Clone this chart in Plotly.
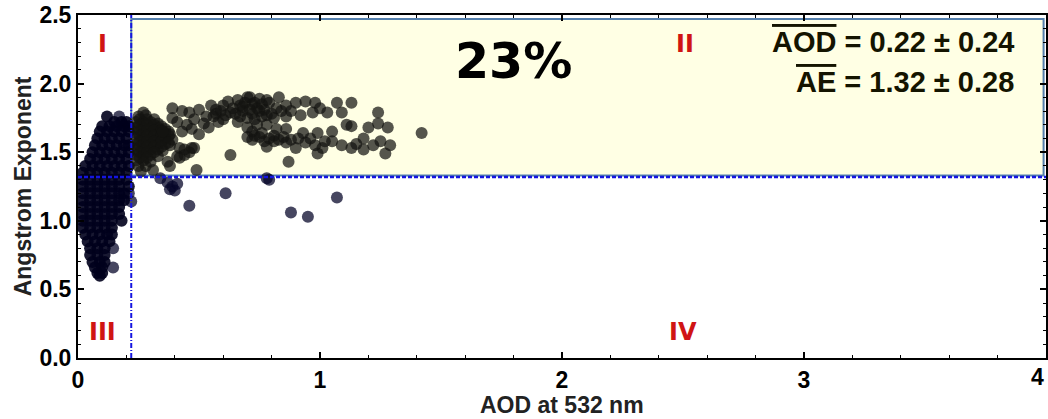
import plotly.graph_objects as go

# ---------------- data ----------------
# Region II points (AOD > 0.22, AE > 1.32) : (AOD, AE)
pts_region2 = [
    (0.25,1.76),(0.28,1.77),
    (0.24,1.72),(0.27,1.72),(0.30,1.72),(0.33,1.71),
    (0.24,1.68),(0.27,1.68),(0.30,1.68),(0.33,1.68),(0.36,1.67),
    (0.24,1.64),(0.27,1.64),(0.30,1.64),(0.33,1.64),(0.36,1.64),(0.38,1.63),
    (0.24,1.60),(0.27,1.60),(0.30,1.60),(0.33,1.60),(0.36,1.60),(0.39,1.59),
    (0.24,1.56),(0.27,1.56),(0.30,1.56),(0.33,1.56),(0.36,1.56),(0.38,1.55),
    (0.24,1.52),(0.27,1.52),(0.30,1.52),(0.33,1.52),(0.35,1.51),
    (0.24,1.48),(0.27,1.48),(0.30,1.48),(0.33,1.47),
    (0.24,1.44),(0.27,1.44),(0.30,1.43),
    (0.25,1.40),(0.28,1.40),(0.26,1.36),(0.31,1.37),
    (0.255,1.74),(0.285,1.74),(0.315,1.74),(0.255,1.70),(0.285,1.70),(0.315,1.70),
    (0.345,1.69),(0.255,1.66),(0.285,1.66),(0.315,1.66),(0.345,1.66),(0.375,1.65),
    (0.255,1.62),(0.285,1.62),(0.315,1.62),(0.345,1.62),(0.375,1.62),(0.255,1.58),
    (0.285,1.58),(0.315,1.58),(0.345,1.58),(0.375,1.57),(0.255,1.54),(0.285,1.54),
    (0.315,1.54),(0.345,1.54),(0.255,1.50),(0.285,1.50),(0.315,1.50),(0.255,1.46),
    (0.285,1.46),
    (0.39,1.82),(0.43,1.80),(0.46,1.79),(0.50,1.81),(0.55,1.84),(0.53,1.76),
    (0.39,1.75),(0.43,1.65),(0.50,1.63),(0.54,1.68),(0.35,1.65),(0.27,1.79),
    (0.41,1.72),(0.45,1.70),(0.48,1.74),(0.57,1.78),(0.58,1.72),(0.47,1.67),
    (0.52,1.71),(0.59,1.80),(0.60,1.74),(0.56,1.76),
    (0.42,1.53),(0.46,1.50),(0.47,1.53),(0.44,1.48),(0.41,1.47),(0.37,1.43),
    (0.38,1.40),(0.44,1.52),(0.48,1.53),(0.42,1.46),(0.49,1.37),(0.63,1.48),
    (0.62,1.87),(0.67,1.84),(0.71,1.90),(0.75,1.89),(0.74,1.82),(0.77,1.81),
    (0.61,1.77),(0.70,1.75),(0.66,1.72),(0.83,1.90),(0.70,1.90),(0.68,1.80),
    (0.72,1.78),(0.65,1.78),(0.79,1.86),(0.73,1.86),(0.64,1.82),(0.69,1.86),
    (0.76,1.76),(0.80,1.78),(0.81,1.75),(0.86,1.76),(0.86,1.84),(0.90,1.86),
    (0.94,1.87),(0.98,1.86),(1.07,1.86),(1.13,1.86),(1.03,1.79),(0.97,1.79),
    (1.09,1.79),(0.92,1.77),(1.24,1.79),(1.00,1.82),(0.88,1.80),(0.84,1.80),
    (0.66,1.88),(0.72,1.85),(0.76,1.85),(0.78,1.88),(0.68,1.83),(0.71,1.81),
    (0.75,1.80),(0.63,1.79),(0.67,1.76),(0.73,1.74),(0.78,1.77),(0.82,1.82),
    (0.60,1.84),(0.57,1.81),
    (0.70,1.68),(0.74,1.70),(0.78,1.70),(0.82,1.67),(0.86,1.67),(0.72,1.65),
    (0.70,1.61),(0.75,1.61),(0.79,1.60),(0.83,1.59),(0.88,1.59),(0.94,1.57),
    (0.98,1.55),(1.01,1.53),(1.05,1.58),(1.09,1.55),(1.13,1.53),(1.18,1.52),
    (1.22,1.55),(1.18,1.60),(1.29,1.55),(1.27,1.49),(0.78,1.54),(0.90,1.53),
    (0.99,1.49),(0.87,1.43),(0.93,1.64),(0.99,1.64),(1.05,1.65),(1.11,1.70),
    (1.13,1.69),(1.20,1.68),(1.24,1.71),(1.28,1.68),(1.42,1.64),(0.72,1.59),
    (0.81,1.62),(0.85,1.61),(0.91,1.60),(1.15,1.56),(1.25,1.58),(1.02,1.58),
    (0.96,1.60),(0.73,1.62),(0.77,1.58),(0.81,1.58),(0.86,1.57),(0.76,1.64),
]

# Dense low-AOD cluster (regions I and III) : (AOD, AE)
pts_cluster = [
    (0.12,1.76),
    (0.15,1.72),(0.18,1.72),(0.20,1.72),
    (0.10,1.69),(0.13,1.69),(0.16,1.69),(0.19,1.69),(0.21,1.69),
    (0.09,1.65),(0.12,1.65),(0.15,1.65),(0.18,1.65),(0.21,1.65),
    (0.08,1.60),(0.11,1.60),(0.14,1.60),(0.17,1.60),(0.20,1.60),
    (0.07,1.55),(0.10,1.55),(0.13,1.55),(0.16,1.55),(0.19,1.55),(0.21,1.55),
    (0.06,1.50),(0.09,1.50),(0.12,1.50),(0.15,1.50),(0.18,1.50),(0.21,1.50),
    (0.05,1.45),(0.08,1.45),(0.11,1.45),(0.14,1.45),(0.17,1.45),(0.20,1.45),
    (0.03,1.40),(0.06,1.40),(0.09,1.40),(0.12,1.40),(0.15,1.40),(0.18,1.40),(0.21,1.40),
    (0.02,1.35),(0.05,1.35),(0.08,1.35),(0.11,1.35),(0.14,1.35),(0.17,1.35),(0.20,1.35),
    (0.02,1.30),(0.05,1.30),(0.08,1.30),(0.11,1.30),(0.14,1.30),(0.17,1.30),(0.20,1.30),
    (0.02,1.25),(0.05,1.25),(0.08,1.25),(0.11,1.25),(0.14,1.25),(0.17,1.25),(0.21,1.25),
    (0.02,1.20),(0.05,1.20),(0.08,1.20),(0.11,1.20),(0.14,1.20),(0.17,1.20),(0.19,1.20),
    (0.02,1.15),(0.05,1.15),(0.08,1.15),(0.11,1.15),(0.14,1.15),(0.17,1.15),(0.19,1.15),
    (0.02,1.10),(0.05,1.10),(0.08,1.10),(0.11,1.10),(0.14,1.10),(0.17,1.10),
    (0.02,1.05),(0.05,1.05),(0.08,1.05),(0.11,1.05),(0.14,1.05),(0.17,1.05),
    (0.02,1.00),(0.05,1.00),(0.08,1.00),(0.11,1.00),(0.14,1.00),(0.18,1.00),
    (0.02,0.95),(0.05,0.95),(0.08,0.95),(0.11,0.95),(0.14,0.95),
    (0.03,0.90),(0.06,0.90),(0.09,0.90),(0.12,0.90),(0.14,0.90),
    (0.04,0.85),(0.07,0.85),(0.10,0.85),(0.13,0.85),
    (0.05,0.80),(0.08,0.80),(0.11,0.80),
    (0.05,0.75),(0.08,0.75),(0.11,0.75),
    (0.06,0.70),(0.09,0.70),(0.11,0.70),
    (0.07,0.66),(0.10,0.66),
    (0.08,0.62),(0.10,0.62),(0.09,0.60),
]

# Scattered points outside region II : (AOD, AE)
pts_scattered = [
    (0.145,0.80),(0.145,0.66),(0.17,1.76),
    (0.22,1.14),(0.21,1.20),(0.34,1.31),(0.38,1.23),(0.40,1.22),(0.39,1.25),
    (0.41,1.27),(0.46,1.11),(0.61,1.20),(0.78,1.31),(0.79,1.30),(0.88,1.06),
    (0.95,1.03),(1.07,1.17),(0.37,1.28),
]

aod_region2 = [p[0] for p in pts_region2]
ae_region2 = [p[1] for p in pts_region2]
aod_cluster = [p[0] for p in pts_cluster]
ae_cluster = [p[1] for p in pts_cluster]
aod_scattered = [p[0] for p in pts_scattered]
ae_scattered = [p[1] for p in pts_scattered]

aod_mean, aod_std = 0.22, 0.24
ae_mean, ae_std = 1.32, 0.28
share_region2 = "23%"

x_ticks = [0, 1, 2, 3, 4]
y_ticks = [0.0, 0.5, 1.0, 1.5, 2.0, 2.5]

# ---------------- figure ----------------
fig = go.Figure()
fig.add_trace(go.Scatter(x=aod_scattered, y=ae_scattered, mode="markers",
                         marker=dict(size=12, color="rgba(5,5,40,0.74)", line=dict(width=0)),
                         showlegend=False, hoverinfo="skip"))
fig.add_trace(go.Scatter(x=aod_cluster, y=ae_cluster, mode="markers",
                         marker=dict(size=12, color="rgba(0,0,28,0.9)", line=dict(width=0)),
                         showlegend=False, hoverinfo="skip"))
fig.add_trace(go.Scatter(x=aod_region2, y=ae_region2, mode="markers",
                         marker=dict(size=12, color="rgba(20,20,16,0.72)", line=dict(width=0)),
                         showlegend=False, hoverinfo="skip"))

# yellow region II box
fig.add_shape(type="rect", xref="x", yref="y", x0=aod_mean, x1=3.99, y0=ae_mean + 0.01, y1=2.47,
              fillcolor="#ffffe4", line=dict(color="#5580ad", width=2), layer="below")
# mean lines
fig.add_shape(type="line", xref="x", yref="y", x0=aod_mean, x1=aod_mean, y0=0, y1=2.5,
              line=dict(color="#1515e0", width=2, dash="5px,2px,1px,2px"), layer="above")
fig.add_shape(type="line", xref="x", yref="y", x0=0, x1=4, y0=ae_mean, y1=ae_mean,
              line=dict(color="#1515e0", width=2.5, dash="4px,2px"), layer="above")

tickfont = dict(family="Liberation Sans", size=23, color="black", weight="bold")
fig.update_xaxes(range=[0, 4], tickvals=x_ticks, ticktext=[str(v) for v in x_ticks],
                 showgrid=False, zeroline=False, showline=True, linewidth=2, linecolor="black",
                 mirror="ticks", ticks="inside", ticklen=6, tickwidth=1.5, tickcolor="black",
                 minor=dict(ticks="inside", dtick=0.2, ticklen=3, tickwidth=1.2, tickcolor="black"),
                 tickfont=tickfont)
fig.update_yaxes(range=[0, 2.5], tickvals=y_ticks, ticktext=[f"{v:.1f}" for v in y_ticks],
                 showgrid=False, zeroline=False, showline=True, linewidth=2, linecolor="black",
                 mirror="ticks", ticks="inside", ticklen=6, tickwidth=1.5, tickcolor="black",
                 minor=dict(ticks="inside", dtick=0.1, ticklen=3, tickwidth=1.2, tickcolor="black"),
                 tickfont=tickfont)

red = "#d01414"
rom = dict(family="DejaVu Sans", size=24, color=red, weight="bold")
ann = [
    dict(x=0.10, y=2.29, text="I", font=rom),
    dict(x=2.51, y=2.29, text="II", font=rom),
    dict(x=0.10, y=0.19, text="III", font=rom),
    dict(x=2.50, y=0.19, text="IV", font=rom),
    dict(x=1.80, y=2.16, text=share_region2,
         font=dict(family="DejaVu Sans", size=49, color="black", weight="bold")),
    dict(x=3.876, y=2.30, xanchor="right",
         text=f'<span style="text-decoration:overline">AOD</span> = {aod_mean:.2f} ± {aod_std:.2f}',
         font=dict(family="Liberation Sans", size=29, color="#141400", weight="bold")),
    dict(x=3.876, y=2.01, xanchor="right",
         text=f'<span style="text-decoration:overline">AE</span> = {ae_mean:.2f} ± {ae_std:.2f}',
         font=dict(family="Liberation Sans", size=29, color="#141400", weight="bold")),
    # last x tick label, pinned inside the page at its right edge
    dict(x=4, y=0, xanchor="right", yanchor="top", yshift=-4, text=str(x_ticks[-1]), font=tickfont),
]
for a in ann:
    a.setdefault("xanchor", "center")
    a.setdefault("yanchor", "middle")
    fig.add_annotation(xref="x", yref="y", showarrow=False, **a)

fig.add_annotation(xref="paper", yref="paper", x=0.5, y=-0.137, yanchor="middle",
                   text="AOD at 532 nm", showarrow=False,
                   font=dict(family="Liberation Sans", size=23, color="#222", weight="bold"))
fig.add_annotation(xref="paper", yref="paper", x=-0.057, y=0.5, xanchor="center",
                   text="Angstrom Exponent", textangle=-90, showarrow=False,
                   font=dict(family="Liberation Sans", size=23, color="#222", weight="bold"))

fig.update_layout(width=1048, height=419, autosize=False,
                  margin=dict(l=78, r=0, t=15, b=61),
                  paper_bgcolor="white", plot_bgcolor="white")

fig.write_html("out.html")
